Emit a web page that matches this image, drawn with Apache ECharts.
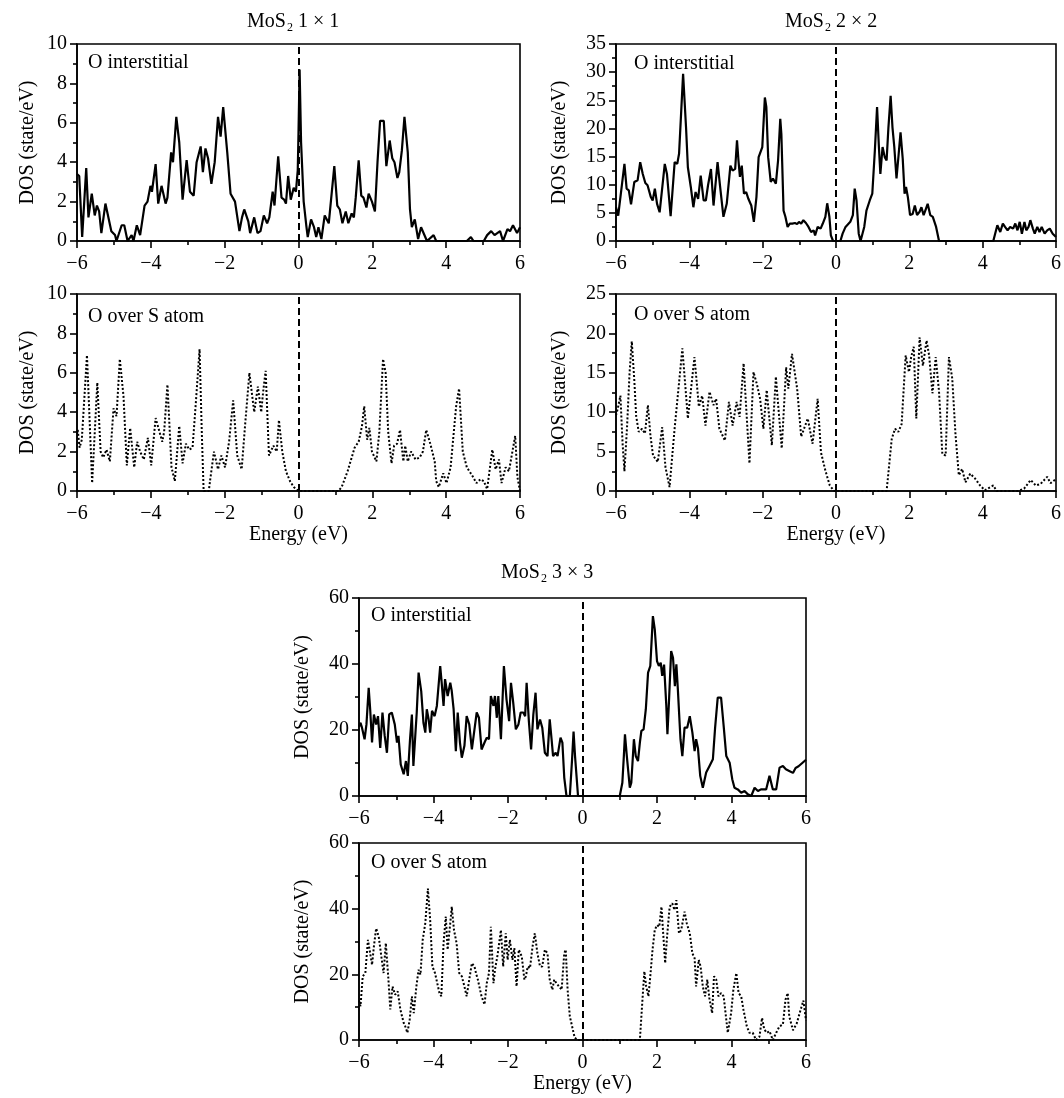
<!DOCTYPE html>
<html><head><meta charset="utf-8">
<script src="https://cdn.jsdelivr.net/npm/echarts@6/dist/echarts.min.js"></script>
<style>html,body{margin:0;padding:0;background:#fff}#c{width:1064px;height:1098px}</style>
</head><body><div id="c"></div>
<script>
// ---------------- data ----------------
const supercells = ['1 \u00d7 1', '2 \u00d7 2', '3 \u00d7 3'];
const sites = ['O interstitial', 'O over S atom'];
const yAxisMax = [10, 10, 35, 25, 60, 60];
const yAxisStep = [2, 2, 5, 5, 20, 20];
const energyMin = -6, energyMax = 6, energyStep = 2;
const fermiLevel = 0;

// [energy (eV), DOS (state/eV)]
const int1 = [[-6.00,3.4],[-5.94,3.3],[-5.86,0.2],[-5.75,3.7],[-5.69,1.2],[-5.60,2.4],[-5.52,1.3],[-5.46,1.8],[-5.40,1.5],[-5.34,0.4],[-5.23,1.9],[-5.07,0.5],[-4.97,0.3],[-4.93,0.0],[-4.79,0.8],[-4.72,0.8],[-4.63,0.0],[-4.52,0.3],[-4.47,0.0],[-4.38,0.8],[-4.29,0.3],[-4.17,1.8],[-4.09,2.0],[-4.01,2.8],[-3.97,2.5],[-3.87,3.9],[-3.80,1.9],[-3.71,2.8],[-3.60,1.9],[-3.55,2.2],[-3.45,4.5],[-3.40,4.0],[-3.31,6.3],[-3.23,5.0],[-3.14,2.1],[-3.03,4.1],[-2.94,2.5],[-2.84,2.3],[-2.76,4.0],[-2.65,4.8],[-2.59,3.5],[-2.52,4.7],[-2.45,4.2],[-2.36,2.9],[-2.27,4.0],[-2.18,6.3],[-2.11,5.3],[-2.04,6.8],[-1.93,4.5],[-1.84,2.4],[-1.72,2.0],[-1.60,0.5],[-1.53,1.2],[-1.47,1.6],[-1.36,1.0],[-1.31,0.4],[-1.20,1.2],[-1.11,0.4],[-1.03,0.5],[-0.94,1.3],[-0.85,0.9],[-0.79,1.2],[-0.76,1.3],[-0.70,2.5],[-0.65,1.8],[-0.55,4.3],[-0.46,2.2],[-0.39,2.1],[-0.34,1.9],[-0.28,3.3],[-0.21,2.1],[-0.13,2.7],[-0.07,2.5],[-0.02,3.6],[0.00,5.5],[0.03,8.7],[0.07,5.0],[0.14,2.0],[0.21,0.8],[0.25,0.2],[0.34,1.1],[0.42,0.7],[0.48,0.2],[0.54,0.7],[0.62,0.1],[0.71,1.3],[0.82,0.9],[0.97,3.8],[1.05,1.8],[1.12,1.6],[1.19,0.9],[1.28,1.5],[1.35,0.9],[1.44,1.4],[1.50,1.2],[1.55,2.2],[1.63,4.1],[1.70,2.3],[1.76,2.2],[1.84,1.7],[1.90,2.4],[1.99,2.0],[2.07,1.5],[2.14,4.0],[2.21,6.1],[2.31,6.1],[2.38,3.8],[2.47,5.1],[2.54,4.2],[2.60,4.0],[2.68,3.2],[2.73,3.5],[2.80,4.6],[2.87,6.3],[2.96,4.5],[3.02,1.6],[3.07,0.7],[3.15,1.1],[3.24,0.1],[3.32,0.7],[3.48,0.0],[3.66,0.3],[3.73,0.0],[4.56,0.0],[4.67,0.2],[4.74,0.0],[5.02,0.0],[5.11,0.3],[5.22,0.5],[5.31,0.3],[5.46,0.5],[5.54,0.0],[5.66,0.6],[5.73,0.5],[5.81,0.8],[5.92,0.4],[6.00,0.7]];

const ovs1 = [[-6.00,2.9],[-5.98,3.1],[-5.93,2.2],[-5.87,2.6],[-5.73,6.9],[-5.59,0.4],[-5.45,5.5],[-5.36,2.0],[-5.29,1.7],[-5.20,2.1],[-5.11,1.5],[-5.01,4.2],[-4.93,3.8],[-4.84,6.7],[-4.74,4.8],[-4.65,1.3],[-4.56,3.2],[-4.45,1.2],[-4.37,2.5],[-4.29,2.0],[-4.19,1.6],[-4.08,2.7],[-3.99,1.3],[-3.87,3.7],[-3.69,2.5],[-3.64,3.0],[-3.55,5.4],[-3.44,1.2],[-3.35,0.5],[-3.23,3.3],[-3.14,1.4],[-3.05,2.4],[-2.96,2.1],[-2.87,2.2],[-2.78,4.5],[-2.68,7.2],[-2.62,3.0],[-2.57,0.0],[-2.43,0.0],[-2.39,0.6],[-2.29,2.0],[-2.18,1.1],[-2.09,1.8],[-1.99,1.2],[-1.88,2.5],[-1.77,4.6],[-1.66,1.8],[-1.54,1.1],[-1.44,3.5],[-1.33,6.0],[-1.20,4.0],[-1.10,5.3],[-1.01,4.0],[-0.96,5.0],[-0.89,6.1],[-0.80,1.8],[-0.68,2.3],[-0.59,2.0],[-0.53,3.6],[-0.44,2.0],[-0.34,1.0],[-0.23,0.5],[-0.13,0.2],[0.00,0.0],[1.08,0.0],[1.17,0.2],[1.33,1.0],[1.52,2.2],[1.63,2.5],[1.72,3.3],[1.78,4.3],[1.86,2.6],[1.92,3.2],[1.99,2.0],[2.11,1.5],[2.19,3.0],[2.29,6.7],[2.36,6.0],[2.43,3.0],[2.52,1.4],[2.59,2.3],[2.67,2.4],[2.75,3.1],[2.84,1.5],[2.89,2.3],[2.96,1.5],[3.05,2.0],[3.17,1.6],[3.28,1.7],[3.37,2.0],[3.46,3.1],[3.57,2.4],[3.69,1.5],[3.73,0.5],[3.80,0.2],[3.92,0.9],[4.01,0.4],[4.12,1.2],[4.27,4.3],[4.35,5.2],[4.45,2.0],[4.56,1.2],[4.70,0.8],[4.82,0.4],[4.93,0.6],[5.02,0.5],[5.11,0.1],[5.25,2.1],[5.34,1.1],[5.43,1.6],[5.50,0.4],[5.61,1.2],[5.70,1.0],[5.87,2.8],[5.93,0.7],[6.00,0.0]];

const int2 = [[-6.00,6.0],[-5.94,4.5],[-5.89,4.8],[-5.77,13.7],[-5.71,9.3],[-5.65,9.0],[-5.59,6.5],[-5.50,10.5],[-5.45,10.5],[-5.41,10.8],[-5.34,14.0],[-5.27,11.9],[-5.20,10.3],[-5.14,9.9],[-5.05,7.8],[-5.00,7.2],[-4.94,9.3],[-4.88,6.6],[-4.81,5.1],[-4.67,13.7],[-4.61,11.9],[-4.51,4.4],[-4.40,14.0],[-4.33,13.7],[-4.28,15.5],[-4.17,29.7],[-4.09,20.2],[-4.04,13.1],[-3.96,9.6],[-3.89,6.0],[-3.83,8.7],[-3.76,7.5],[-3.69,11.6],[-3.61,7.2],[-3.55,7.2],[-3.49,9.9],[-3.41,12.8],[-3.34,6.3],[-3.23,14.0],[-3.16,9.6],[-3.07,4.3],[-2.98,6.6],[-2.88,13.4],[-2.82,12.5],[-2.75,12.8],[-2.70,17.9],[-2.66,14.3],[-2.62,11.4],[-2.57,13.4],[-2.51,8.4],[-2.45,8.7],[-2.39,7.5],[-2.31,6.3],[-2.24,3.4],[-2.17,7.8],[-2.11,14.9],[-2.06,15.2],[-2.01,16.7],[-1.94,25.5],[-1.90,23.8],[-1.85,14.9],[-1.78,10.5],[-1.72,11.1],[-1.64,10.2],[-1.58,14.3],[-1.52,21.7],[-1.49,19.0],[-1.43,5.4],[-1.38,4.3],[-1.32,2.5],[-1.26,3.1],[-1.19,3.1],[-1.12,3.2],[-1.06,3.0],[-1.01,3.4],[-0.95,3.1],[-0.89,3.7],[-0.82,3.2],[-0.75,2.5],[-0.68,1.6],[-0.61,1.9],[-0.57,1.0],[-0.50,2.5],[-0.42,2.2],[-0.36,3.1],[-0.29,4.3],[-0.24,6.7],[-0.18,4.3],[-0.14,1.0],[-0.08,0.0],[0.12,0.0],[0.18,1.3],[0.26,2.5],[0.39,3.4],[0.46,4.6],[0.51,9.3],[0.56,7.2],[0.62,1.3],[0.67,0.0],[0.72,0.0],[0.77,2.5],[0.83,5.4],[0.92,7.2],[0.99,8.4],[1.06,16.1],[1.12,23.8],[1.17,16.7],[1.21,11.9],[1.27,16.7],[1.33,14.9],[1.38,14.3],[1.43,20.2],[1.49,25.8],[1.54,20.2],[1.59,16.7],[1.65,11.1],[1.71,15.5],[1.76,19.3],[1.82,14.6],[1.87,8.4],[1.91,9.6],[1.96,7.8],[2.02,4.6],[2.09,4.8],[2.15,6.3],[2.21,4.6],[2.28,5.2],[2.33,6.0],[2.39,4.6],[2.44,5.5],[2.50,6.6],[2.57,4.6],[2.64,4.3],[2.73,2.5],[2.81,0.0],[4.29,0.0],[4.40,2.8],[4.48,1.6],[4.55,3.1],[4.61,2.5],[4.68,1.9],[4.75,2.5],[4.83,2.2],[4.89,3.1],[4.95,1.9],[5.01,3.4],[5.07,1.3],[5.14,3.4],[5.19,1.9],[5.25,2.5],[5.30,3.7],[5.37,2.2],[5.42,1.3],[5.49,2.5],[5.55,1.6],[5.61,2.5],[5.69,1.3],[5.76,1.9],[5.83,2.2],[5.91,1.3],[6.00,0.7]];

const ovs2 = [[-6.00,9.6],[-5.95,10.5],[-5.88,12.1],[-5.82,6.0],[-5.77,2.5],[-5.70,8.0],[-5.63,15.0],[-5.57,19.0],[-5.50,14.0],[-5.45,9.5],[-5.38,7.5],[-5.29,7.9],[-5.21,7.3],[-5.13,10.9],[-5.06,7.0],[-4.99,4.5],[-4.86,3.7],[-4.74,8.1],[-4.65,3.0],[-4.54,0.5],[-4.40,8.0],[-4.19,18.1],[-4.04,9.2],[-3.86,17.0],[-3.74,10.7],[-3.65,12.1],[-3.56,8.3],[-3.45,12.6],[-3.34,10.9],[-3.27,11.7],[-3.18,7.9],[-3.03,6.4],[-2.92,11.3],[-2.82,8.3],[-2.71,11.3],[-2.63,9.4],[-2.52,16.2],[-2.36,3.5],[-2.25,15.1],[-2.16,13.6],[-2.07,11.7],[-1.98,7.9],[-1.89,12.8],[-1.75,5.8],[-1.64,14.5],[-1.48,5.4],[-1.36,15.7],[-1.30,13.0],[-1.20,17.4],[-1.06,13.0],[-0.95,6.9],[-0.77,9.2],[-0.64,6.0],[-0.50,11.7],[-0.41,4.9],[-0.29,2.6],[-0.17,0.7],[-0.05,0.0],[1.38,0.0],[1.52,6.6],[1.61,7.9],[1.70,7.5],[1.79,8.5],[1.90,17.2],[1.99,15.1],[2.05,17.0],[2.12,18.3],[2.19,9.2],[2.28,19.5],[2.37,15.9],[2.47,19.1],[2.54,17.2],[2.63,12.4],[2.72,17.0],[2.81,12.6],[2.90,4.7],[2.99,4.5],[3.08,17.0],[3.17,14.3],[3.26,7.1],[3.35,2.0],[3.44,2.8],[3.53,1.1],[3.66,2.2],[3.79,1.6],[3.93,0.7],[4.06,0.1],[4.29,0.7],[4.38,0.0],[4.96,0.0],[5.13,0.3],[5.31,1.4],[5.45,0.7],[5.58,0.9],[5.76,1.8],[5.85,1.0],[6.00,1.5]];

const int3 = [[-6.00,21.0],[-5.96,22.2],[-5.92,20.7],[-5.85,17.2],[-5.80,21.7],[-5.74,32.8],[-5.70,26.3],[-5.65,16.2],[-5.60,24.7],[-5.54,21.7],[-5.49,24.2],[-5.43,14.6],[-5.37,25.3],[-5.31,18.2],[-5.25,13.1],[-5.19,24.7],[-5.12,25.3],[-5.04,21.7],[-4.98,16.2],[-4.94,18.2],[-4.88,9.6],[-4.80,6.6],[-4.74,10.6],[-4.69,6.1],[-4.63,17.2],[-4.58,24.7],[-4.54,9.1],[-4.49,8.6],[-4.45,25.3],[-4.40,37.4],[-4.33,31.8],[-4.27,22.2],[-4.22,19.2],[-4.18,26.3],[-4.13,23.2],[-4.09,19.2],[-4.04,25.8],[-3.97,24.2],[-3.91,27.3],[-3.87,26.8],[-3.82,39.4],[-3.78,34.3],[-3.73,27.3],[-3.69,35.4],[-3.62,30.3],[-3.55,34.3],[-3.51,31.8],[-3.46,26.3],[-3.40,13.6],[-3.35,25.3],[-3.29,16.2],[-3.24,11.6],[-3.17,15.2],[-3.11,24.2],[-3.04,21.7],[-2.97,14.1],[-2.90,20.2],[-2.84,25.3],[-2.78,23.7],[-2.71,14.1],[-2.63,16.2],[-2.57,17.7],[-2.51,17.2],[-2.46,30.3],[-2.39,27.3],[-2.35,30.3],[-2.30,23.7],[-2.26,30.3],[-2.19,17.2],[-2.11,39.4],[-2.04,29.3],[-1.97,22.7],[-1.92,34.3],[-1.86,28.3],[-1.79,20.2],[-1.72,21.7],[-1.66,25.3],[-1.59,25.3],[-1.54,24.2],[-1.50,34.3],[-1.44,22.7],[-1.38,14.1],[-1.32,24.7],[-1.26,31.3],[-1.21,20.2],[-1.14,23.2],[-1.08,20.7],[-1.01,13.1],[-0.94,12.1],[-0.88,23.2],[-0.83,17.2],[-0.79,12.1],[-0.72,13.1],[-0.67,12.1],[-0.59,17.7],[-0.54,16.2],[-0.49,5.6],[-0.43,0.0],[-0.34,0.0],[-0.28,11.1],[-0.24,19.5],[-0.20,12.0],[-0.12,0.0],[1.00,0.0],[1.07,4.0],[1.11,12.1],[1.14,18.7],[1.19,12.1],[1.27,2.5],[1.31,4.0],[1.38,17.2],[1.43,12.1],[1.49,10.6],[1.54,16.2],[1.58,19.7],[1.64,20.2],[1.70,26.3],[1.76,37.4],[1.82,39.4],[1.89,54.5],[1.94,50.5],[2.00,40.9],[2.05,39.4],[2.10,40.4],[2.14,36.4],[2.19,39.8],[2.25,27.3],[2.28,18.7],[2.32,28.3],[2.38,43.9],[2.43,41.9],[2.48,33.3],[2.52,39.9],[2.56,32.3],[2.63,17.2],[2.68,12.1],[2.74,20.7],[2.81,20.7],[2.88,24.2],[2.95,19.2],[3.01,13.6],[3.05,17.2],[3.10,14.5],[3.16,6.1],[3.23,2.5],[3.32,7.1],[3.41,9.1],[3.50,11.1],[3.56,20.7],[3.63,29.8],[3.72,29.8],[3.79,21.2],[3.86,12.1],[3.95,10.1],[4.02,5.1],[4.08,2.5],[4.17,2.0],[4.26,1.0],[4.35,1.5],[4.44,0.5],[4.53,0.0],[4.62,2.5],[4.71,1.5],[4.79,2.0],[4.93,2.0],[5.02,6.1],[5.11,2.0],[5.20,2.0],[5.29,8.6],[5.38,9.1],[5.46,8.1],[5.55,7.6],[5.65,7.0],[5.72,8.5],[5.80,9.0],[5.90,10.0],[6.00,11.0]];

const ovs3 = [[-6.00,12.0],[-5.96,10.3],[-5.90,19.4],[-5.83,20.4],[-5.76,30.5],[-5.70,26.4],[-5.65,22.9],[-5.60,28.5],[-5.54,34.0],[-5.47,31.5],[-5.40,25.4],[-5.34,20.4],[-5.28,29.5],[-5.21,18.4],[-5.16,9.3],[-5.10,16.3],[-5.03,13.8],[-4.96,14.8],[-4.89,9.3],[-4.80,5.2],[-4.76,4.2],[-4.70,2.2],[-4.64,6.2],[-4.58,13.3],[-4.53,8.2],[-4.46,16.3],[-4.40,21.4],[-4.35,19.9],[-4.29,30.5],[-4.22,35.6],[-4.15,46.1],[-4.09,36.6],[-4.03,22.4],[-3.96,20.4],[-3.91,20.9],[-3.84,14.3],[-3.79,13.3],[-3.73,29.5],[-3.67,37.6],[-3.62,27.5],[-3.55,35.6],[-3.51,40.6],[-3.45,33.5],[-3.38,29.5],[-3.31,20.4],[-3.24,19.4],[-3.17,16.3],[-3.11,13.3],[-3.04,18.4],[-2.97,23.4],[-2.90,22.4],[-2.86,20.4],[-2.81,18.4],[-2.75,15.3],[-2.71,13.3],[-2.63,10.8],[-2.57,17.3],[-2.51,20.4],[-2.46,34.5],[-2.39,17.3],[-2.35,21.4],[-2.28,25.9],[-2.19,33.5],[-2.13,22.4],[-2.06,32.5],[-2.01,24.4],[-1.95,30.5],[-1.88,24.4],[-1.83,28.0],[-1.77,16.3],[-1.71,27.5],[-1.63,25.4],[-1.56,18.4],[-1.52,19.4],[-1.47,22.4],[-1.41,21.9],[-1.34,28.5],[-1.28,32.5],[-1.21,26.4],[-1.14,22.4],[-1.08,22.4],[-1.01,27.5],[-0.94,26.4],[-0.88,18.4],[-0.81,15.3],[-0.76,18.4],[-0.70,17.3],[-0.63,16.3],[-0.56,15.3],[-0.49,26.4],[-0.45,27.5],[-0.40,15.3],[-0.34,7.2],[-0.28,4.2],[-0.21,0.7],[-0.12,0.0],[1.54,0.0],[1.61,12.3],[1.66,20.9],[1.71,16.3],[1.77,13.3],[1.82,19.4],[1.88,27.5],[1.94,33.5],[2.00,35.0],[2.06,34.5],[2.12,40.6],[2.16,33.5],[2.22,23.4],[2.27,31.5],[2.34,40.6],[2.41,41.6],[2.47,39.6],[2.52,42.6],[2.59,32.5],[2.65,33.5],[2.74,39.1],[2.80,35.5],[2.88,32.5],[2.95,26.4],[3.01,24.9],[3.05,16.3],[3.12,24.4],[3.17,22.4],[3.23,16.3],[3.29,13.3],[3.35,18.4],[3.41,12.3],[3.48,8.2],[3.53,19.4],[3.59,18.4],[3.65,13.3],[3.72,14.3],[3.79,13.3],[3.86,6.2],[3.90,2.2],[3.99,8.2],[4.05,15.3],[4.13,20.4],[4.19,14.3],[4.26,13.3],[4.32,9.3],[4.41,4.2],[4.48,2.2],[4.57,2.2],[4.66,0.0],[4.75,1.0],[4.82,6.7],[4.88,3.2],[4.95,2.2],[5.02,2.7],[5.11,0.0],[5.20,2.2],[5.29,4.2],[5.38,4.7],[5.45,12.3],[5.51,14.3],[5.55,7.2],[5.65,3.0],[5.75,5.0],[5.85,9.0],[5.93,12.0],[6.00,6.0]];

const panelSeries = [int1, ovs1, int2, ovs2, int3, ovs3];

// ---------------- layout ----------------
const FONT = '"Liberation Serif", "Times New Roman", serif';
const grids = [
  {left: 77,  top: 44,  width: 443, height: 197},
  {left: 77,  top: 294, width: 443, height: 197},
  {left: 616, top: 44,  width: 446, height: 197},
  {left: 616, top: 294, width: 446, height: 197},
  {left: 359, top: 598, width: 447, height: 198},
  {left: 359, top: 843, width: 447, height: 197}
];
const yNameGap = [39, 39, 46, 46, 46, 46];
const titlePos = [{left: 247, top: 10}, {left: 785, top: 10}, {left: 501, top: 561}];
const labelPos = [{left: 88, top: 51}, {left: 88, top: 305}, {left: 634, top: 52}, {left: 634, top: 303}, {left: 371, top: 604}, {left: 371, top: 851}];

const fmtE = v => (v < 0 ? '\u2212' + Math.abs(v) : String(v));

const option = {
  animation: false,
  backgroundColor: '#fff',
  title: [],
  grid: grids.map(g => Object.assign({show: true, borderColor: '#000', borderWidth: 1.6, backgroundColor: 'transparent'}, g)),
  xAxis: [], yAxis: [], series: []
};

supercells.forEach((sc, i) => {
  option.title.push({
    text: '{a|MoS}{b|2}{a| ' + sc + '}',
    left: titlePos[i].left, top: titlePos[i].top, padding: 0,
    textStyle: {fontWeight: 'normal', rich: {
      a: {fontFamily: FONT, fontSize: 20, fontWeight: 'normal', color: '#000', lineHeight: 24},
      b: {fontFamily: FONT, fontSize: 12, fontWeight: 'normal', color: '#000', lineHeight: 12, padding: [12, 0, 0, 1]}
    }}
  });
});

panelSeries.forEach((data, i) => {
  const isBottom = i % 2 === 1;
  option.title.push({
    text: sites[i % 2], left: labelPos[i].left, top: labelPos[i].top, padding: 0,
    textStyle: {fontFamily: FONT, fontSize: 20, fontWeight: 'normal', color: '#000', lineHeight: 24}
  });
  option.xAxis.push({
    gridIndex: i, type: 'value', min: energyMin, max: energyMax, interval: energyStep,
    name: isBottom ? 'Energy (eV)' : '', nameLocation: 'middle', nameGap: 24,
    nameTextStyle: {fontFamily: FONT, fontSize: 20, color: '#000'},
    axisLine: {show: true, onZero: false, lineStyle: {color: '#000', width: 1.6}},
    axisTick: {show: true, inside: false, length: 7, lineStyle: {color: '#000', width: 1.6}},
    minorTick: {show: true, splitNumber: 2, length: 4, lineStyle: {color: '#000', width: 1.6}},
    axisLabel: {fontFamily: FONT, fontSize: 20, color: '#000', margin: 13, formatter: fmtE},
    splitLine: {show: false}
  });
  option.yAxis.push({
    gridIndex: i, type: 'value', min: 0, max: yAxisMax[i], interval: yAxisStep[i],
    name: 'DOS (state/eV)', nameLocation: 'middle', nameGap: yNameGap[i],
    nameTextStyle: {fontFamily: FONT, fontSize: 20, color: '#000'},
    axisLine: {show: true, onZero: false, lineStyle: {color: '#000', width: 1.6}},
    axisTick: {show: true, inside: false, length: 7, lineStyle: {color: '#000', width: 1.6}},
    minorTick: {show: true, splitNumber: 2, length: 4, lineStyle: {color: '#000', width: 1.6}},
    axisLabel: {fontFamily: FONT, fontSize: 20, color: '#000', margin: 10},
    splitLine: {show: false}
  });
  option.series.push({
    type: 'line', xAxisIndex: i, yAxisIndex: i, data: data,
    showSymbol: false, symbol: 'none', silent: true, clip: true,
    lineStyle: isBottom ? {color: '#000', width: 2, type: [2, 2]} : {color: '#000', width: 2.2},
    markLine: {
      silent: true, symbol: 'none', label: {show: false},
      lineStyle: {color: '#000', width: 2, type: [7, 4]},
      data: [{xAxis: fermiLevel}]
    }
  });
});

const chart = echarts.init(document.getElementById('c'), null, {renderer: 'canvas'});
chart.setOption(option);
</script></body></html>
